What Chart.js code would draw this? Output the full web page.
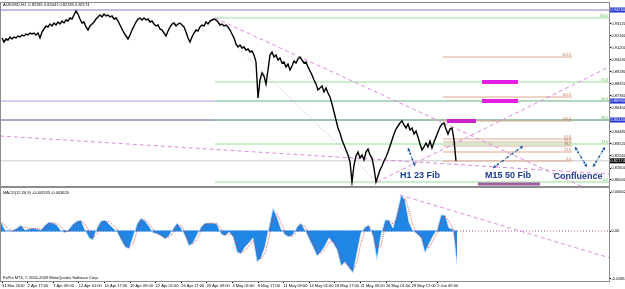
<!DOCTYPE html>
<html>
<head>
<meta charset="utf-8">
<script src="https://cdn.jsdelivr.net/npm/chart.js@4.4.1/dist/chart.umd.min.js"></script>
<style>
  html, body { margin: 0; padding: 0; background: #fff; }
  #wrap { position: relative; width: 625px; height: 289px; overflow: hidden; }
  #main { position: absolute; left: 0; top: 0; }
  #macd { position: absolute; left: 0; top: 187px; }
</style>
</head>
<body>
<div id="wrap">
  <canvas id="main" width="625" height="187"></canvas>
  <canvas id="macd" width="625" height="102"></canvas>
</div>
<script>
// AUDUSD H1 - one close read every 5 bars
const barStep = 5;
const closes = [
  0.9200,0.9168,0.9192,0.9184,0.9208,0.9192,0.9208,0.9200,0.9216,0.9208,
  0.9224,0.9216,0.9232,0.9224,0.9240,0.9232,0.9240,0.9224,0.9240,0.9200,
  0.9248,0.9272,0.9296,0.9288,0.9312,0.9296,0.9320,0.9304,0.9328,0.9312,
  0.9336,0.9320,0.9344,0.9336,0.9360,0.9352,0.9384,0.9416,0.9392,0.9352,
  0.9320,0.9328,0.9288,0.9264,0.9296,0.9312,0.9328,0.9352,0.9368,0.9384,
  0.9368,0.9392,0.9376,0.9384,0.9368,0.9376,0.9352,0.9360,0.9336,0.9304,
  0.9272,0.9240,0.9216,0.9192,0.9224,0.9264,0.9296,0.9328,0.9352,0.9360,
  0.9344,0.9360,0.9344,0.9352,0.9328,0.9336,0.9312,0.9296,0.9304,0.9272,
  0.9264,0.9240,0.9216,0.9256,0.9288,0.9312,0.9320,0.9296,0.9312,0.9320,
  0.9304,0.9288,0.9248,0.9200,0.9168,0.9208,0.9240,0.9264,0.9256,0.9288,
  0.9304,0.9296,0.9328,0.9312,0.9336,0.9344,0.9352,0.9344,0.9328,0.9304,
  0.9312,0.9296,0.9304,0.9288,0.9264,0.9232,0.9200,0.9152,0.9128,0.9144,
  0.9120,0.9128,0.9104,0.9112,0.9088,0.9096,0.9064,0.9008,0.8720,0.8864,
  0.8920,0.8896,0.8832,0.8944,0.9064,0.9088,0.9048,0.9064,0.9024,0.9040,
  0.9000,0.9008,0.8968,0.8992,0.8944,0.8976,0.9016,0.9000,0.9032,0.9048,
  0.9024,0.9000,0.9008,0.8968,0.8936,0.8904,0.8864,0.8832,0.8784,0.8800,
  0.8816,0.8768,0.8800,0.8760,0.8728,0.8672,0.8608,0.8544,0.8480,0.8440,
  0.8384,0.8344,0.8304,0.8264,0.8208,0.8048,0.8184,0.8256,0.8288,0.8240,
  0.8264,0.8224,0.8288,0.8312,0.8264,0.8240,0.8160,0.8048,0.8096,0.8144,
  0.8176,0.8216,0.8248,0.8288,0.8336,0.8384,0.8432,0.8472,0.8496,0.8520,
  0.8536,0.8504,0.8480,0.8512,0.8464,0.8480,0.8432,0.8456,0.8408,0.8352,
  0.8304,0.8328,0.8360,0.8328,0.8376,0.8320,0.8368,0.8408,0.8448,0.8488,
  0.8512,0.8520,0.8472,0.8432,0.8472,0.8480,0.8384,0.8217
];
const lastClose = 0.82174;
const titleText = 'AUDUSD,H1  0.82185 0.82441 0.82185 0.82174';

// MACD(12,26,9) read every 10 bars
const macdStart = -2.5;
const macdStep = 10;
const macdMain = [
  0.00153,0.00017,-0.00017,0.00017,0.00051,0.00102,0.00017,0.00034,0.00051,0.00034,
  0.00017,0.00102,0.00153,0.00136,0.00102,0,-0.00034,0.00034,0.00119,0.00170,
  0.00187,0.00017,-0.00119,-0.00153,0.00051,0.00170,0.00187,0.00119,0.00051,-0.00017,
  -0.00153,-0.00272,-0.00306,-0.00102,0.00119,0.00221,0.00170,0.00085,-0.00034,-0.00051,
  -0.00085,-0.00136,-0.00085,0.00034,0.00136,0.00051,-0.00085,-0.00255,-0.00204,-0.00068,
  0.00068,0.00136,0.00136,0.00136,0.00119,-0.00051,-0.00085,-0.00017,-0.00102,-0.00357,
  -0.00391,-0.00272,-0.00204,-0.00119,-0.00527,-0.00459,-0.00272,0.00068,0.00391,0.00238,
  0.00034,-0.00068,-0.00102,-0.00068,0.00068,0.00136,0.00017,-0.00136,-0.00272,-0.00425,
  -0.00357,-0.00255,-0.00119,-0.00204,-0.00323,-0.00595,-0.00527,-0.00629,-0.00714,-0.00374,
  -0.00034,0.00068,0.00102,-0.00102,-0.00493,-0.00068,0.00187,0.00187,0.00051,0.00306,
  0.00612,0.00527,0.00153,0,-0.00051,-0.00119,-0.00374,-0.00221,-0.00085,0.00017,
  0.00272,0.00272,0.00051,0.00034,-0.00578
];
const macdSignal = [
  0.00140,0.00100,0.00030,0.00000,0.00020,0.00060,0.00070,0.00040,0.00040,0.00040,
  0.00030,0.00050,0.00110,0.00140,0.00130,0.00070,0.00000,-0.00010,0.00060,0.00130,
  0.00170,0.00120,0.00000,-0.00120,-0.00050,0.00090,0.00160,0.00160,0.00100,0.00030,
  -0.00090,-0.00210,-0.00280,-0.00220,-0.00010,0.00160,0.00190,0.00130,0.00030,-0.00040,
  -0.00070,-0.00110,-0.00110,-0.00030,0.00090,0.00100,-0.00020,-0.00170,-0.00220,-0.00140,
  -0.00010,0.00100,0.00130,0.00135,0.00128,0.00040,-0.00060,-0.00050,-0.00060,-0.00230,
  -0.00360,-0.00330,-0.00250,-0.00160,-0.00330,-0.00480,-0.00380,-0.00110,0.00220,0.00300,
  0.00140,-0.00010,-0.00080,-0.00090,-0.00010,0.00100,0.00080,-0.00050,-0.00200,-0.00340,
  -0.00380,-0.00310,-0.00190,-0.00170,-0.00260,-0.00440,-0.00550,-0.00590,-0.00670,-0.00530,
  -0.00200,0.00010,0.00080,0.00000,-0.00290,-0.00250,0.00060,0.00180,0.00120,0.00190,
  0.00450,0.00560,0.00350,0.00080,-0.00020,-0.00080,-0.00240,-0.00290,-0.00160,-0.00040,
  0.00140,0.00260,0.00160,0.00050,-0.00250
];
const macdTitle = 'MACD(12,26,9) -0.005533 -0.003620';
const copyright = 'FxPro MT4, \u00a9 2001-2009 MetaQuotes Software Corp.';

// axes
const dateBars = [0,64,128,192,256,320,384,448,512,576,640,704,768,832,896,960,1024,1088];
const dateLabels = ['31 Mar 2010','2 Apr 17:00','7 Apr 09:00','12 Apr 01:00','14 Apr 17:00','19 Apr 09:00',
  '22 Apr 01:00','26 Apr 17:00','29 Apr 09:00','4 May 01:00','6 May 17:00','11 May 09:00',
  '14 May 01:00','18 May 17:00','21 May 09:00','26 May 01:00','28 May 17:00','2 Jun 09:00'];
const priceTicks = [0.9312,0.9216,0.9120,0.9024,0.8928,0.8832,0.8736,0.8640,0.8544,0.8448,0.8352,0.8256,0.8160,0.8064];
const macdTicks = [0.00662, 0, -0.00813];
const macdTickLabels = ['0.00662', '0.00', '-0.00813'];

// drawn objects
const markedPrices = [0.9424, 0.8696, 0.8544];
const h1FibLabels = ['100.0','61.8','50.0','38.2','23.6','0.0'];
const h1FibPrices = [0.9360, 0.8848, 0.8696, 0.8544, 0.8352, 0.8048];
const h1FibBars = [532.5, 1517.5];
const m15FibLabels = ['261.8','161.8','100.0','61.8','50.0','38.2','23.6','0.0'];
const m15FibPrices = [0.9048, 0.8728, 0.8536, 0.8392, 0.8368, 0.8336, 0.8288, 0.8216];
const m15FibBars = [1102.5, 1425];
const zonePrices = [0.8848, 0.8696, 0.8536, 0.8032];
const zoneStarts = [1200, 1200, 1112.5, 1190];
const zoneEnds = [1290, 1290, 1185, 1345];
const trendStarts = [[532.5, 0.9360], [937.5, 0.8048], [-5, 0.8416], [582.5, 0.9144]];
const trendEnds = [[1517.5, 0.7912], [1517.5, 0.8968], [1517.5, 0.8112], [937.5, 0.8048]];
const macdTrend = [[995, 0.00612], [1520, -0.00459]];
const noteTexts = ['H1 23 Fib', 'M15 50 Fib', 'Confluence'];
const noteBars = [1045, 1265, 1440];
const notePrices = [0.8096, 0.8096, 0.8088];
const arrowStarts = [[1015, 0.8320], [1227.5, 0.8160], [1432.5, 0.8328], [1477.5, 0.8168]];
const arrowEnds = [[1032.5, 0.8176], [1302.5, 0.8336], [1462.5, 0.8168], [1507.5, 0.8328]];

// styles
const xMin = -2.5, xMax = 1517.5;
const markedColors = ['#7c7cc4', '#a4a4e0', '#4f5f88'];
const zoneColors = ['#e21ee2', '#e21ee2', '#c823c8', '#9c5e9c'];
const zoneWidths = [4, 4, 4, 3];
const trendColors = ['#dc8ade', '#dc8ade', '#dc8ade', '#c9a2c9'];
const trendDashes = [[4, 3], [4, 3], [4, 3], [1, 2]];
const tiny = { family: 'Arial', size: 4 };

Chart.defaults.font.family = 'Arial';

const seg = (x1, y1, x2, y2) => [{ x: x1, y: y1 }, { x: x2, y: y2 }];
const lineDs = (data, color, width, dash) => ({
  data, borderColor: color, borderWidth: width, borderDash: dash || [], pointRadius: 0, fill: false
});

function head(ctx, x, y, ang) {
  const s = 3.5;
  ctx.beginPath();
  ctx.moveTo(x, y);
  ctx.lineTo(x - s * Math.cos(ang - 0.5), y - s * Math.sin(ang - 0.5));
  ctx.lineTo(x - s * Math.cos(ang + 0.5), y - s * Math.sin(ang + 0.5));
  ctx.closePath();
  ctx.fill();
}

function drawArrow(ctx, x1, y1, x2, y2) {
  const ang = Math.atan2(y2 - y1, x2 - x1);
  const len = Math.hypot(x2 - x1, y2 - y1);
  ctx.save();
  ctx.strokeStyle = '#1f58a6';
  ctx.fillStyle = '#1f58a6';
  ctx.lineWidth = 1;
  ctx.setLineDash([1.5, 1.5]);
  ctx.beginPath();
  ctx.moveTo(x1, y1);
  ctx.lineTo(x2, y2);
  ctx.stroke();
  ctx.setLineDash([]);
  for (let d = 6; d < len - 4; d += 6) {
    ctx.beginPath();
    ctx.arc(x1 + Math.cos(ang) * d, y1 + Math.sin(ang) * d, 1, 0, Math.PI * 2);
    ctx.fill();
  }
  head(ctx, x2, y2, ang);
  head(ctx, x1, y1, ang + Math.PI);
  ctx.restore();
}

const mainDecor = {
  id: 'mainDecor',
  afterDatasetsDraw(chart) {
    const { ctx, scales: { x, y } } = chart;
    ctx.save();
    ctx.font = '3.5px Arial';
    ctx.textAlign = 'right';
    ctx.textBaseline = 'bottom';
    ctx.fillStyle = '#5cb85c';
    h1FibLabels.forEach((t, i) => ctx.fillText(t, x.getPixelForValue(h1FibBars[1]) - 1, y.getPixelForValue(h1FibPrices[i]) - 0.5));
    ctx.fillStyle = '#c07a55';
    m15FibLabels.forEach((t, i) => ctx.fillText(t, x.getPixelForValue(m15FibBars[1]) - 1, y.getPixelForValue(m15FibPrices[i]) - 0.5));
    arrowStarts.forEach((s, i) => drawArrow(ctx,
      x.getPixelForValue(s[0]), y.getPixelForValue(s[1]),
      x.getPixelForValue(arrowEnds[i][0]), y.getPixelForValue(arrowEnds[i][1])));
    ctx.font = 'bold 9px Arial';
    ctx.textAlign = 'center';
    ctx.textBaseline = 'middle';
    ctx.fillStyle = '#1c3c96';
    noteTexts.forEach((t, i) => ctx.fillText(t, x.getPixelForValue(noteBars[i]), y.getPixelForValue(notePrices[i])));
    ctx.restore();
  },
  afterDraw(chart) {
    const { ctx, chartArea: a, scales: { y } } = chart;
    ctx.save();
    ctx.strokeStyle = '#8c8c8c';
    ctx.lineWidth = 1;
    ctx.strokeRect(a.left - 0.5, a.top - 0.5, a.right - a.left + 1, a.bottom - a.top + 1);
    ctx.font = '4px Arial';
    ctx.textBaseline = 'middle';
    ctx.textAlign = 'left';
    const box = (p, bg) => {
      const py = y.getPixelForValue(p);
      ctx.fillStyle = bg;
      ctx.fillRect(a.right + 1, py - 2.5, 15, 5);
      ctx.fillStyle = '#fff';
      ctx.fillText(p.toFixed(5), a.right + 1.5, py);
    };
    markedPrices.forEach(p => box(p, '#2234d0'));
    box(lastClose, '#000');
    ctx.fillStyle = '#000';
    ctx.fillText(titleText, a.left + 2, a.top + 2);
    ctx.restore();
  }
};

const macdDecor = {
  id: 'macdDecor',
  afterDraw(chart) {
    const { ctx, chartArea: a } = chart;
    ctx.save();
    ctx.strokeStyle = '#8c8c8c';
    ctx.lineWidth = 1;
    ctx.strokeRect(a.left - 0.5, a.top - 0.5, a.right - a.left + 1, a.bottom - a.top + 1);
    ctx.font = '4px Arial';
    ctx.textBaseline = 'middle';
    ctx.fillStyle = '#000';
    ctx.fillText(macdTitle, a.left + 2, a.top + 5);
    ctx.fillText(copyright, a.left + 2, a.bottom - 3);
    ctx.restore();
  }
};

const noPad = s => { s.paddingTop = 0; s.paddingBottom = 0; s.paddingLeft = 0; s.paddingRight = 0; };

function options(xOpts, yOpts, padding) {
  return {
    responsive: false,
    animation: false,
    events: [],
    layout: { padding },
    plugins: { legend: { display: false }, tooltip: { enabled: false } },
    elements: { line: { tension: 0 }, point: { radius: 0 } },
    scales: { x: xOpts, y: yOpts }
  };
}

const rightAxis = (min, max, tickValues, label) => ({
  position: 'right',
  min, max,
  afterFit: s => { s.width = 16; noPad(s); },
  afterBuildTicks: s => { s.ticks = tickValues.map(v => ({ value: v })); },
  ticks: { color: '#000', padding: 0.5, font: tiny, callback: label },
  grid: { drawOnChartArea: false, drawTicks: true, tickLength: 2, color: '#000' },
  border: { display: true, color: '#808080' }
});

const mainSets = [
  lineDs(closes.map((c, i) => ({ x: i * barStep, y: c })), '#000', 1.4),
  ...zonePrices.map((p, i) => lineDs(seg(zoneStarts[i], p, zoneEnds[i], p), zoneColors[i], zoneWidths[i])),
  ...trendStarts.map((s, i) => lineDs(seg(s[0], s[1], trendEnds[i][0], trendEnds[i][1]), trendColors[i], 1, trendDashes[i])),
  ...m15FibPrices.map(p => lineDs(seg(m15FibBars[0], p, m15FibBars[1], p), '#dba98c', 1)),
  ...h1FibPrices.map(p => lineDs(seg(h1FibBars[0], p, h1FibBars[1], p), '#93dd93', 1)),
  ...markedPrices.map((p, i) => lineDs(seg(xMin, p, xMax, p), markedColors[i], 1)),
  lineDs(seg(xMin, lastClose, xMax, lastClose), '#cccccc', 1)
];

new Chart(document.getElementById('main'), {
  type: 'line',
  data: { datasets: mainSets },
  options: options(
    { type: 'linear', min: xMin, max: xMax, display: false },
    rightAxis(0.8016, 0.9480, priceTicks, v => v.toFixed(5)),
    { top: 3, left: 1, right: 0, bottom: 1 }
  ),
  plugins: [mainDecor]
});

const macdPts = arr => arr.map((v, i) => ({ x: macdStart + i * macdStep, y: v }));
const lastMacdBar = macdStart + (macdMain.length - 1) * macdStep;

const macdSets = [
  lineDs(seg(macdTrend[0][0], macdTrend[0][1], macdTrend[1][0], macdTrend[1][1]), '#dc8ade', 1, [4, 3]),
  lineDs(macdPts(macdSignal), '#e03c3c', 0.8, [1, 1]),
  Object.assign(lineDs(macdPts(macdMain), '#d6e8fb', 0.8), { fill: 'origin', backgroundColor: '#1f86e6' }),
  lineDs(seg(xMin, 0, lastMacdBar, 0), '#1f86e6', 1),
  lineDs(seg(xMin, 0, xMax, 0), '#a0508a', 1, [1, 2])
];

new Chart(document.getElementById('macd'), {
  type: 'line',
  data: { datasets: macdSets },
  options: options(
    {
      type: 'linear', min: xMin, max: xMax,
      afterBuildTicks: s => { s.ticks = dateBars.map(v => ({ value: v })); },
      afterFit: s => { s.height = 8; noPad(s); },
      ticks: {
        autoSkip: false, maxRotation: 0, minRotation: 0, align: 'start',
        padding: 0.5, color: '#000', font: tiny,
        callback: (v, i) => dateLabels[i]
      },
      grid: { drawOnChartArea: false, drawTicks: true, tickLength: 2, color: '#000' },
      border: { display: true, color: '#808080' }
    },
    rightAxis(-0.0085, 0.00731, macdTicks, (v, i) => macdTickLabels[i]),
    { top: 1, left: 1, right: 0, bottom: 0 }
  ),
  plugins: [macdDecor]
});
</script>
</body>
</html>
